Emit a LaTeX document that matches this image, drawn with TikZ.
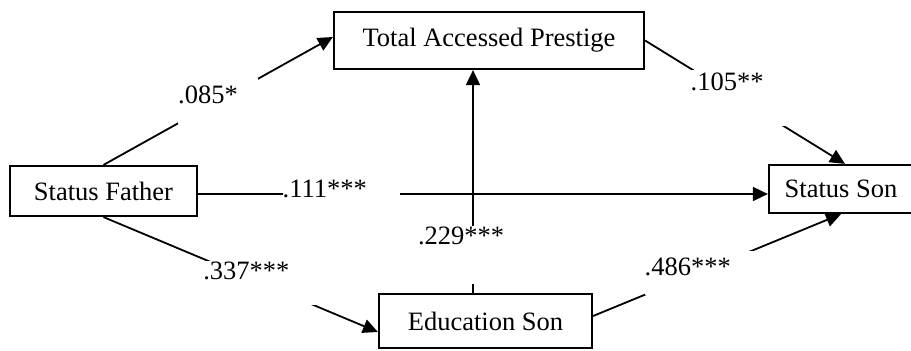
\documentclass[tikz,border=0pt]{standalone}
\usepackage{fontspec}
\setmainfont{Liberation Serif}
\usetikzlibrary{arrows.meta}

\begin{document}
\begin{tikzpicture}[x=1pt,y=-1pt,
		varbox/.style={draw,line width=2.2pt,inner sep=0pt,font=\fontsize{26.5}{31}\selectfont},
		effect/.style={line width=1.8pt,-{Triangle[length=15pt,width=14pt]}},
		coef/.style={fill=white,inner sep=0pt,align=left,font=\fontsize{26.5}{31}\selectfont}]
	\useasboundingbox (0,0) rectangle (911,351);
	% Variablen
	\node[varbox,minimum width=310pt,minimum height=57pt] (tap) at (489,40.5) {Total Accessed Prestige};
	\node[varbox,minimum width=187pt,minimum height=50pt] (sf) at (103.5,191) {Status Father};
	\node[varbox,minimum width=144pt,minimum height=48pt] (ss) at (841,189) {Status Son};
	\node[varbox,minimum width=213pt,minimum height=54pt] (es) at (485.5,321) {Education Son};
	% Pfade
	\draw[effect] (sf.north) to node[coef,pos=0.5,text width=80pt,text height=26pt,text depth=20pt] {.085*} ([yshift=3.5pt]tap.west);
	\draw[effect] (tap.east) to node[coef,pos=0.463,text width=94pt,text height=21pt,text depth=35pt] {.105**} ([xshift=4pt]ss.north);
	\draw[effect] ([yshift=-3pt]sf.east) to node[coef,pos=0.251,text width=117pt,text height=19pt,text depth=13pt] {.111***} ([yshift=-3pt]sf.east -| ss.west);
	\draw[effect] ([xshift=-12.5pt]es.north) to node[coef,pos=0.169,text width=110pt,text height=18pt,text depth=40pt] {.229***} ([xshift=-12.5pt]es.north |- tap.south);
	\draw[effect] (sf.south) to node[coef,pos=0.575,text width=116pt,text height=18pt,text depth=26pt] {.337***} ([yshift=-11pt]es.west);
	\draw[effect] ([yshift=5pt]es.east) to node[coef,pos=0.426,text width=108pt,text height=25pt,text depth=19pt] {.486***} (ss.south);
\end{tikzpicture}
\end{document}
